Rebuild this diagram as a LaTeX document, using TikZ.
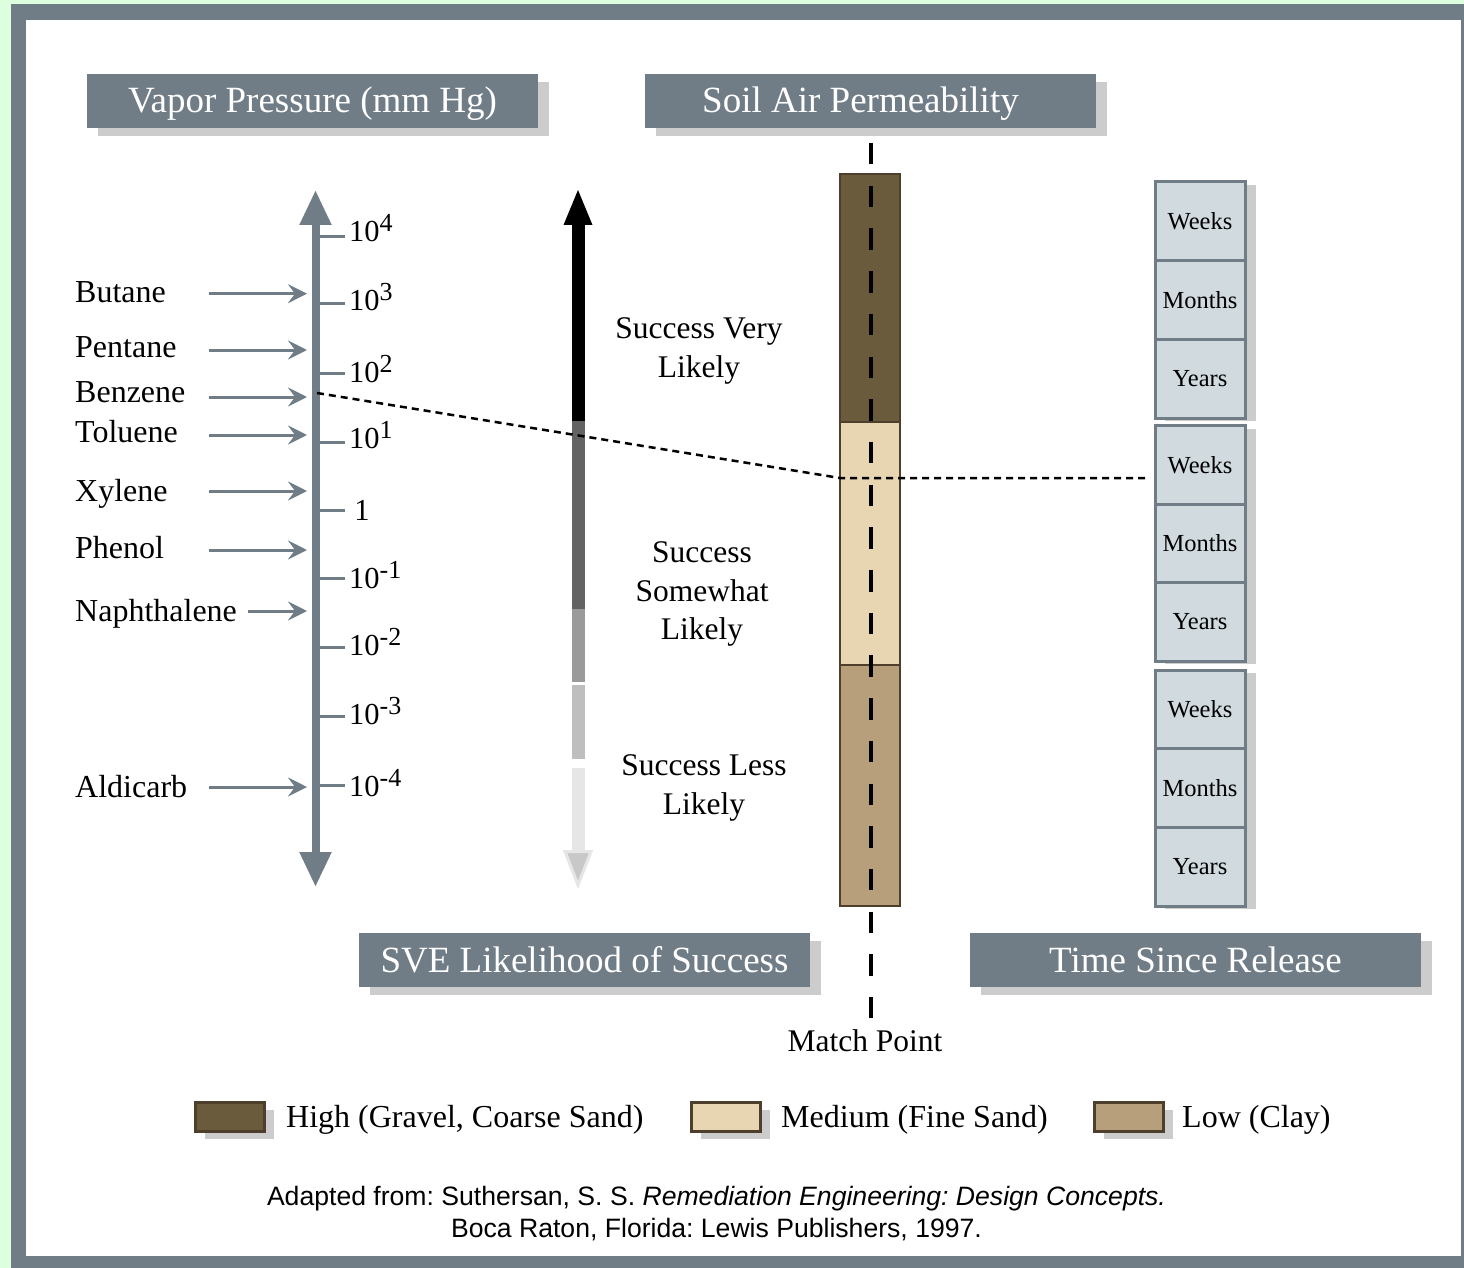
\documentclass[tikz,border=0pt]{standalone}
\usepackage{fontspec}
\setmainfont{Liberation Serif}
\newfontfamily\citefont{Liberation Sans}
\usetikzlibrary{arrows.meta,shadows}
\definecolor{bggreen}{RGB}{221,255,221}
\definecolor{slate}{RGB}{112,125,135}
\definecolor{shgray}{RGB}{204,204,204}
\definecolor{soilhigh}{RGB}{107,91,61}
\definecolor{soilmed}{RGB}{232,213,178}
\definecolor{soillow}{RGB}{184,159,123}
\definecolor{soilline}{RGB}{77,63,43}
\definecolor{timefill}{RGB}{209,219,223}
\definecolor{grA}{RGB}{99,99,99}
\definecolor{grB}{RGB}{154,154,154}
\definecolor{grC}{RGB}{190,190,190}
\definecolor{grD}{RGB}{230,230,230}
\definecolor{grE}{RGB}{200,200,200}
\newcommand{\fsz}[2]{\fontsize{#1}{#2}\selectfont}
\newcommand{\pw}[1]{10\raisebox{9.5pt}{\fsz{26}{28}#1}}
\frenchspacing
\begin{document}
\begin{tikzpicture}[x=1pt,y=-1pt,
  titlebox/.style={fill=slate,text=white,minimum width=451pt,minimum height=53.5pt,inner sep=0pt,
    text height=24pt,text depth=0pt,font=\fsz{37}{44},
    drop shadow={shadow xshift=11pt,shadow yshift=-8pt,fill=shgray,opacity=1}},
  chem/.style={anchor=base west,inner sep=0pt,font=\fsz{32}{38}},
  chemarrow/.style={slate,line width=3pt,-{Stealth[length=19pt,width=19pt,inset=7pt]}},
  ticklab/.style={anchor=base west,inner sep=0pt,font=\fsz{30.5}{36}},
  succ/.style={align=center,inner sep=0pt,font=\fsz{31.5}{38.5}},
  soilbox/.style={draw=soilline,line width=2.5pt,minimum width=60pt,inner sep=0pt},
  timebox/.style={draw=slate,fill=timefill,line width=3pt,minimum width=90pt,minimum height=78.6pt,
    inner sep=0pt,font=\fsz{24.5}{28}},
  legbox/.style={draw=soilline,line width=3pt,minimum width=69pt,minimum height=29pt,inner sep=0pt,
    drop shadow={shadow xshift=10pt,shadow yshift=-8pt,fill=shgray,opacity=1}},
  legtxt/.style={anchor=base west,inner sep=0pt,font=\fsz{32}{38}},
  cite/.style={anchor=base,inner sep=0pt,font=\citefont\fsz{26.6}{30}},
  dotline/.style={black,line width=2.5pt,dash pattern=on 7pt off 5pt},
  matchline/.style={black,line width=3.2pt,dash pattern=on 21.5pt off 21.2pt}
]
% frame
\fill[bggreen] (0,0) rectangle (1464,1268);
\fill[slate] (11,4) rectangle (1464,1268);
\fill[white] (26,20) rectangle (1461,1256);
\useasboundingbox (0,0) rectangle (1464,1268);

% titles
\node[titlebox] (tvp) at (312.5,100.8) {Vapor Pressure (mm Hg)};
\node[titlebox] (tsap) at (870.5,100.8) {Soil Air Permeability\hspace*{20pt}};
\node[titlebox] (tsve) at (584.5,960) {SVE Likelihood of Success};
\node[titlebox] (ttsr) at (1195.5,960) {Time Since Release};

% vapor pressure axis
\coordinate (axtop) at (315.5,190);
\coordinate (axbot) at (315.5,887);
\draw[slate,line width=8pt,{Triangle[length=35pt,width=30pt]}-{Triangle[length=35pt,width=30pt]}] (axbot) -- (axtop);
\foreach \ty/\lab/\by [count=\i] in {236/{\pw{4}}/241, 303/{\pw{3}}/310,
  373/{\pw{2}}/382, 442/{\pw{1}}/448, 510/{\,1}/520,
  578/{\pw{-1}}/588, 647/{\pw{-2}}/655, 716/{\pw{-3}}/724,
  785/{\pw{-4}}/796}
{
  \draw[slate,line width=3pt] (319,\ty) -- (345,\ty);
  \node[ticklab] (tl\i) at (349,\by) {\lab};
}

% compounds
\foreach \nm/\txt/\by/\ay/\ax in {but/Butane/302/293.7/209, pen/Pentane/357/350/209,
  ben/Benzene/402/397/209, tol/Toluene/442/435/209, xyl/Xylene/501/491/209,
  phe/Phenol/558/550/209, nap/Naphthalene/621/611/248, ald/Aldicarb/797/787/209}
{
  \node[chem] (\nm) at (75,\by) {\txt};
  \coordinate (\nm s) at (\ax,\ay);
  \coordinate (\nm e) at (307,\ay);
  \draw[chemarrow] (\nm s) -- (\nm e);
}

% likelihood gradient arrow
\fill[black] (571.5,224) rectangle (585,421);
\fill[black] (563.5,225) -- (592.5,225) -- (578,190) -- cycle;
\fill[grA] (571.5,421) rectangle (585,609);
\fill[grB] (571.5,609) rectangle (585,682);
\fill[grC] (571.5,685) rectangle (585,759);
\fill[grD] (571.5,768) rectangle (585,852);
\filldraw[fill=grE,draw=grD,line width=3pt,line join=miter] (565,851.5) -- (591,851.5) -- (578,885) -- cycle;

\node[succ] (sv) at (699,351) {Success Very\\Likely};
\node[succ] (ss) at (702,594) {Success\\Somewhat\\Likely};
\node[succ] (sl) at (704,788) {Success Less\\Likely};

% soil column
\node[soilbox,fill=soilhigh,minimum height=248pt] (colh) at (870,298) {};
\node[soilbox,fill=soilmed,minimum height=243pt] (colm) at (870,543.5) {};
\node[soilbox,fill=soillow,minimum height=241pt] (coll) at (870,785.5) {};

% time boxes
\fill[shgray] (1165,185) rectangle (1256,421);
\fill[shgray] (1165,429) rectangle (1256,664);
\fill[shgray] (1165,673) rectangle (1256,909);
\node[timebox] (w1) at (1200,221.3) {Weeks};
\node[timebox] (m1) at (1200,300) {Months};
\node[timebox] (y1) at (1200,378.7) {Years};
\node[timebox] (w2) at (1200,465.2) {Weeks};
\node[timebox] (m2) at (1200,543.5) {Months};
\node[timebox] (y2) at (1200,621.8) {Years};
\node[timebox] (w3) at (1200,709.3) {Weeks};
\node[timebox] (m3) at (1200,788) {Months};
\node[timebox] (y3) at (1200,866.7) {Years};

% dotted match line
\coordinate (dp1) at (317,393);
\coordinate (dp2) at (840,478);
\coordinate (dp3) at (1149,478);
\draw[dotline] (dp1) -- (dp2) -- (dp3);

% match point line
\coordinate (mtop) at (871,143);
\coordinate (mbot) at (871,1018);
\draw[matchline] (mtop) -- (mbot);
\node[anchor=base,inner sep=0pt,font=\fsz{31.5}{36}] (mp) at (865,1051) {Match Point};

% legend
\node[legbox,fill=soilhigh] (lh) at (229.5,1116.5) {};
\node[legtxt] (lht) at (286,1127) {High (Gravel, Coarse Sand)};
\node[legbox,fill=soilmed] (lm) at (725.5,1116.5) {};
\node[legtxt] (lmt) at (781,1127) {Medium (Fine Sand)};
\node[legbox,fill=soillow] (ll) at (1128.5,1116.5) {};
\node[legtxt] (llt) at (1182,1127) {Low (Clay)};

% citation
\node[cite] (c1) at (716.5,1205.5) {Adapted from: Suthersan, S. S. \textit{Remediation Engineering: Design Concepts.}};
\node[cite] (c2) at (716.5,1237.5) {Boca Raton, Florida: Lewis Publishers, 1997.};
\end{tikzpicture}
\end{document}
